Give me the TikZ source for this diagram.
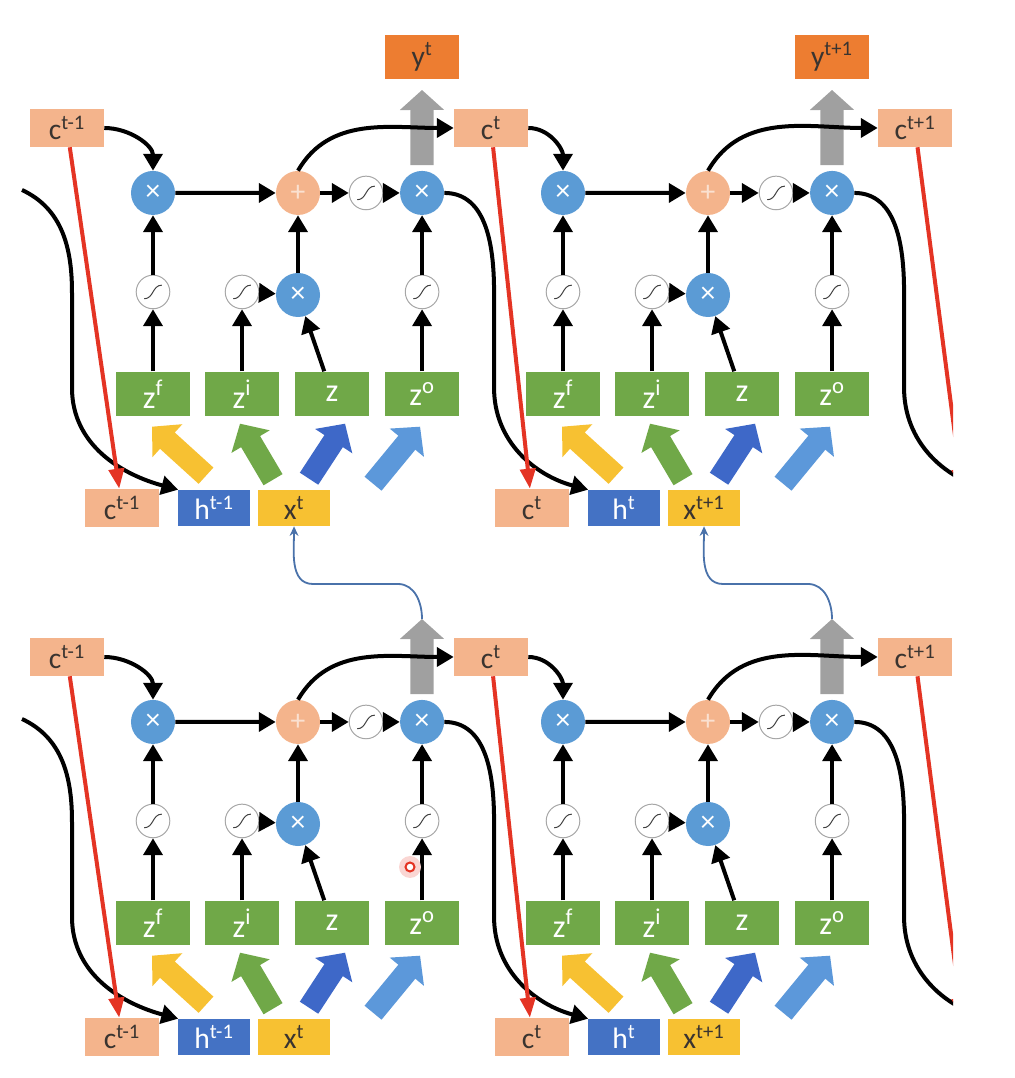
\documentclass[tikz,border=0pt]{standalone}
\usepackage{fontspec}
\setmainfont{Carlito}
\usetikzlibrary{arrows.meta, positioning, calc}
\definecolor{salmon}{RGB}{244,180,140}
\definecolor{orangeout}{RGB}{237,125,49}
\definecolor{gategreen}{RGB}{112,168,72}
\definecolor{hiddenblue}{RGB}{68,114,196}
\definecolor{inputyellow}{RGB}{247,193,50}
\definecolor{multblue}{RGB}{91,155,213}
\definecolor{deepblue}{RGB}{62,104,200}
\definecolor{skyblue}{RGB}{92,152,218}
\definecolor{memred}{RGB}{228,52,36}
\definecolor{feedblue}{RGB}{74,114,170}
\definecolor{outgray}{RGB}{160,160,160}
\definecolor{darktext}{RGB}{58,52,48}

% one LSTM cell: name, x shift, y shift, labels of c, h, x
\newcommand{\lstmcell}[6]{%
  \begin{scope}[shift = {(#2,#3)}]
    \node[zbox] (#1-zf) at (153,684) {z\textsuperscript{f}};
    \node[zbox] (#1-zi) [right = 2.225cm of #1-zf] {z\textsuperscript{i}};
    \node[zbox] (#1-zz) [right = 2.25cm of #1-zi] {z};
    \node[zbox] (#1-zo) [right = 2.25cm of #1-zz] {z\textsuperscript{o}};
    \node[sig] (#1-sf) [above = 2.55cm of #1-zf] {};
    \node[sig] (#1-si) [above = 2.55cm of #1-zi] {};
    \node[sig] (#1-so) [above = 2.55cm of #1-zo] {};
    \node[mult] (#1-mz) at (298,783) {×};
    \node[mult] (#1-mf) [above = 2.475cm of #1-sf] {×};
    \node[plus] (#1-add) [above = 2.55cm of #1-mz] {+};
    \node[sig] (#1-sg) [right = 1.7cm of #1-add] {};
    \node[mult] (#1-mo) [above = 2.475cm of #1-so] {×};
    \node[cbox] (#1-cb) at (122,570) {c\textsuperscript{#4}};
    \node[hbox] (#1-hb) [right = 2.3cm of #1-cb] {h\textsuperscript{#5}};
    \node[xbox] (#1-xb) [right = 2cm of #1-hb] {x\textsuperscript{#6}};
    \coordinate (#1-yt) at (422,988);
    %
    \path[flow]
      (#1-zf) edge (#1-sf)
      (#1-sf) edge (#1-mf)
      (#1-zi) edge (#1-si)
      (#1-si) edge (#1-mz)
      (#1-zz) edge (#1-mz)
      (#1-mz) edge (#1-add)
      (#1-zo) edge (#1-so)
      (#1-so) edge (#1-mo)
      (#1-mf) edge (#1-add)
      (#1-add) edge (#1-sg)
      (#1-sg) edge (#1-mo);
    \draw[output, shorten <= 4pt] (#1-mo) -- (#1-yt);
    \draw[fat, draw = inputyellow] ($(#1-hb.north)+(-8,14)$) -- ($(#1-zf.south)+(-1,-10)$);
    \draw[fat, draw = gategreen] ($(#1-xb.north)+(-21,10)$) -- ($(#1-zi.south)+(-2,-7)$);
    \draw[fat, draw = deepblue] ($(#1-xb.north)+(15,11)$) -- ($(#1-zz.south)+(13,-7)$);
    \draw[fat, draw = skyblue] ($(#1-xb.north)+(79,6)$) -- ($(#1-zo.south)+(-2,-10)$);
  \end{scope}}

\begin{document}
\begin{tikzpicture} [%
    x = 0.025cm, y = 0.025cm,
    ->,
    >= { Triangle[length = 0.42cm, width = 0.47cm] },
    on grid,
    every node/.style = { font = \fontsize{21}{23}\selectfont },
    box/.style = {%
      rectangle, inner sep = 0pt,
      minimum width = 1.85cm, minimum height = 0.95cm },
    cbox/.style = { box, fill = salmon, text = darktext },
    hbox/.style = { box, fill = hiddenblue, text = white,
      minimum width = 1.78cm, minimum height = 0.9cm },
    xbox/.style = { box, fill = inputyellow, text = darktext,
      minimum width = 1.78cm, minimum height = 0.9cm },
    zbox/.style = { box, fill = gategreen, text = white, minimum height = 1.12cm,
      font = \fontsize{23}{25}\selectfont },
    ybox/.style = { box, fill = orangeout, text = darktext, minimum height = 1.12cm },
    mult/.style = { circle, fill = multblue, text = white,
      minimum size = 1.1cm, inner sep = 0pt },
    plus/.style = { circle, fill = salmon, text = white, text opacity = 0.6,
      minimum size = 1.1cm, inner sep = 0pt },
    sig/.style = {%
      circle, draw = gray!70, fill = white, line width = 0.7pt,
      minimum size = 0.84cm, inner sep = 0pt,
      path picture = {%
        \draw[-, line width = 0.7pt, draw = black!75]
          ([shift = {(-0.22cm,-0.17cm)}]path picture bounding box.center)
          .. controls +(0.24cm,0) and +(-0.24cm,0) ..
          ([shift = {(0.22cm,0.17cm)}]path picture bounding box.center); } },
    flow/.style = { draw, line width = 0.1cm },
    output/.style = { draw = outgray, line width = 0.58cm,
      -{Triangle[length = 0.5cm, width = 1.08cm]} },
    fat/.style = { line width = 0.55cm,
      -{Triangle[length = 0.52cm, width = 1.08cm]} },
    memline/.style = { draw = memred, line width = 0.1cm,
      -{Triangle[length = 0.5cm, width = 0.38cm]} },
    feed/.style = { draw = feedblue, line width = 0.045cm,
      -{Stealth[length = 0.24cm, width = 0.22cm]} }
  ]

  \useasboundingbox (0,0) rectangle (1014,1078);
  \begin{scope}
  \clip (0,0) rectangle (953,1078);

  \node[cbox] (uc0) at (67,950) {c\textsuperscript{t-1}};
  \node[cbox] (uc1) at (491,950) {c\textsuperscript{t}};
  \node[cbox] (uc2) at (915,950) {c\textsuperscript{t+1}};
  \node[cbox] (dc0) at (67,421) {c\textsuperscript{t-1}};
  \node[cbox] (dc1) at (491,421) {c\textsuperscript{t}};
  \node[cbox] (dc2) at (915,421) {c\textsuperscript{t+1}};
  \node[ybox] (y1) at (422,1021) {y\textsuperscript{t}};
  \node[ybox] (y2) at (832,1021) {y\textsuperscript{t+1}};

  \lstmcell{u1}{0}{0}{t-1}{t-1}{t}
  \lstmcell{u2}{410}{0}{t}{t}{t+1}
  \lstmcell{d1}{0}{-529}{t-1}{t-1}{t}
  \lstmcell{d2}{410}{-529}{t}{t}{t+1}

  % ends that leave the picture
  \coordinate (uh0) at (22,888);
  \coordinate (uh3) at (997,587);
  \coordinate (uc3) at (962,589);
  \coordinate (dh0) at (22,359);
  \coordinate (dh3) at (997,58);
  \coordinate (dc3) at (962,60);

  \draw[flow] (uc0.east) to[out = 0, in = 90] (u1-mf.north);
  \draw[flow] (u1-add.north) to[out = 60, in = 180] (uc1.west);
  \draw[flow] (uc1.east) to[out = 0, in = 90] (u2-mf.north);
  \draw[flow] (u2-add.north) to[out = 60, in = 180] (uc2.west);
  \draw[flow] (uh0) to[out = -25, in = 90] ++(50,-103) -- ++(0,-95)
    to[out = -90, in = 165] (u1-hb.north west);
  \draw[flow] (u1-mo) to[out = 0, in = 90] ++(72,-100) -- ++(0,-95)
    to[out = -90, in = 165] (u2-hb.north west);
  \draw[flow] (u2-mo) to[out = 0, in = 90] ++(72,-100) -- ++(0,-95)
    to[out = -90, in = 165] (uh3);

  \draw[flow] (dc0.east) to[out = 0, in = 90] (d1-mf.north);
  \draw[flow] (d1-add.north) to[out = 60, in = 180] (dc1.west);
  \draw[flow] (dc1.east) to[out = 0, in = 90] (d2-mf.north);
  \draw[flow] (d2-add.north) to[out = 60, in = 180] (dc2.west);
  \draw[flow] (dh0) to[out = -25, in = 90] ++(50,-103) -- ++(0,-95)
    to[out = -90, in = 165] (d1-hb.north west);
  \draw[flow] (d1-mo) to[out = 0, in = 90] ++(72,-100) -- ++(0,-95)
    to[out = -90, in = 165] (d2-hb.north west);
  \draw[flow] (d2-mo) to[out = 0, in = 90] ++(72,-100) -- ++(0,-95)
    to[out = -90, in = 165] (dh3);

  \draw[memline] (uc0) -- (u1-cb);
  \draw[memline] (uc1) -- (u2-cb);
  \draw[memline] (uc2) -- (uc3);
  \draw[memline] (dc0) -- (d1-cb);
  \draw[memline] (dc1) -- (d2-cb);
  \draw[memline] (dc2) -- (dc3);

  \draw[feed] (d1-yt) to[out = 90, in = 0] ++(-24,35) -- ++(-85,0)
    to[out = 180, in = -90] (u1-xb.south);
  \draw[feed] (d2-yt) to[out = 90, in = 0] ++(-24,35) -- ++(-85,0)
    to[out = 180, in = -90] (u2-xb.south);

  % pointer mark
  \fill[memred!20] (410,211) circle (11);
  \draw[memred, fill = white, line width = 0.05cm] (410,211) circle (4.5);
  \end{scope}

\end{tikzpicture}
\end{document}
